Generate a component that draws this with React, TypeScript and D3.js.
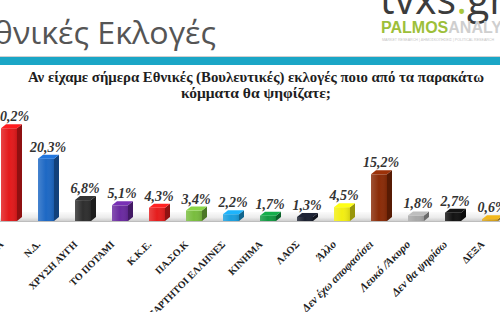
import React from "react";
import * as d3 from "d3";

const categories = [
  "ΣΥΡΙΖΑ",
  "Ν.Δ.",
  "ΧΡΥΣΗ ΑΥΓΗ",
  "ΤΟ ΠΟΤΑΜΙ",
  "Κ.Κ.Ε.",
  "ΠΑ.ΣΟ.Κ",
  "ΑΝΕΞΑΡΤΗΤΟΙ ΕΛΛΗΝΕΣ",
  "ΚΙΝΗΜΑ",
  "ΛΑΟΣ",
  "Άλλο",
  "Δεν έχω αποφασίσει",
  "Λευκό /Άκυρο",
  "Δεν θα ψηφίσω",
  "ΔΕΞΑ",
];
const values = [30.2, 20.3, 6.8, 5.1, 4.3, 3.4, 2.2, 1.7, 1.3, 4.5, 15.2, 1.8, 2.7, 0.6];
const barColors = [
  "#e3191b", "#1d68c4", "#2e2e2e", "#6a2aa0", "#e51d1d", "#79bd3e", "#1a9fdf",
  "#129a42", "#1b2030", "#f2ee12", "#8a2b07", "#a8a8a8", "#121212", "#d6a21a",
];
const title = "Εθνικές Εκλογές";
const questionLines = [
  "Αν είχαμε σήμερα Εθνικές (Βουλευτικές) εκλογές ποιο από τα παρακάτω",
  "κόμματα θα ψηφίζατε;",
];
const questionWidths = [456, 150];

const W = 500;
const H = 312;

export default function App() {
  const x = d3.scalePoint<string>().domain(categories).range([11, 492]);
  const y = d3.scaleLinear().domain([0, 31]).range([221, 125.8]);
  const fmt = (v: number) => d3.format(".1f")(v).replace(".", ",") + "%";
  const base = y(0);
  const dx = 5;
  const dy = -4;

  return (
    <svg
      width={W}
      height={H}
      viewBox={`0 0 ${W} ${H}`}
      style={{ position: "absolute", left: 0, top: 0, background: "#fff" }}
    >
      <defs>
        <linearGradient id="floor" x1="0" y1="0" x2="0" y2="1">
          <stop offset="0" stopColor="#fbfbfb" />
          <stop offset="0.6" stopColor="#ececec" />
          <stop offset="1" stopColor="#cfcfcf" />
        </linearGradient>
        <linearGradient id="sheen" x1="0" y1="0" x2="1" y2="0">
          <stop offset="0" stopColor="#fff" stopOpacity="0.18" />
          <stop offset="0.5" stopColor="#fff" stopOpacity="0" />
          <stop offset="1" stopColor="#000" stopOpacity="0.12" />
        </linearGradient>
      </defs>
      <rect width={W} height={H} fill="#fff" />

      {/* header */}
      <text
        x={-24}
        y={44}
        fontFamily="'Open Sans', sans-serif"
        fontSize={31}
        fill="#555"
        textLength={240}
        lengthAdjust="spacingAndGlyphs"
      >
        {title}
      </text>
      <text
        x={380}
        y={14}
        fontFamily="'Open Sans', sans-serif"
        fontSize={42}
        fill="#3c3c3c"
        textLength={126}
        lengthAdjust="spacingAndGlyphs"
      >
        tvxs<tspan fill="#a9c73c">.</tspan>gr
      </text>
      <text
        x={381}
        y={33}
        fontFamily="'Liberation Sans Narrow', 'Liberation Sans', sans-serif"
        fontWeight="bold"
        fontSize={16}
      >
        <tspan fill="#9dbf3a">PALMOS</tspan>
        <tspan fill="#cfcfcf">ANALYSIS</tspan>
      </text>
      <text x={382} y={41} fontFamily="'Liberation Sans', sans-serif" fontSize={3.6} fill="#c4c4c4">
        MARKET RESEARCH | ΔΗΜΟΣΚΟΠΗΣΕΙΣ | POLITICAL RESEARCH
      </text>
      <line x1={0} x2={W} y1={56.5} y2={56.5} stroke="#d0d0d0" strokeWidth={1} />
      <rect x={0} y={57} width={W} height={8} fill="#1ba6c6" />

      {questionLines.map((t, i) => (
        <text
          key={i}
          x={256 - questionWidths[i] / 2}
          y={82 + i * 16}
          fontFamily="'Liberation Serif', 'DejaVu Serif', serif"
          fontWeight="bold"
          fontSize={14}
          fill="#1e1e1e"
          textLength={questionWidths[i]}
          lengthAdjust="spacingAndGlyphs"
        >
          {t}
        </text>
      ))}

      {/* floor */}
      <rect x={0} y={base - 9} width={W} height={9} fill="url(#floor)" />
      <line x1={0} x2={W} y1={base + 0.5} y2={base + 0.5} stroke="#bdbdbd" />

      {/* bars */}
      {categories.map((c, i) => {
        const cx = x(c) as number;
        const top = y(values[i]);
        const x0 = cx - 10;
        const x1 = cx + 6;
        const col = d3.color(barColors[i])!;
        const side = col.darker(1.3).formatHex();
        const cap = col.brighter(0.35).formatHex();
        const mixed = c !== c.toUpperCase();
        return (
          <g key={c}>
            <polygon
              points={`${x1},${top} ${x1 + dx},${top + dy} ${x1 + dx},${base + dy} ${x1},${base}`}
              fill={side}
            />
            <rect x={x0} y={top} width={x1 - x0} height={base - top} fill={barColors[i]} />
            <rect x={x0} y={top} width={x1 - x0} height={base - top} fill="url(#sheen)" />
            <polygon
              points={`${x0},${top} ${x1},${top} ${x1 + dx},${top + dy} ${x0 + dx},${top + dy}`}
              fill={cap}
            />
            <text
              x={cx}
              y={top - 7}
              textAnchor="middle"
              fontFamily="'Liberation Serif', 'DejaVu Serif', serif"
              fontWeight="bold"
              fontStyle="italic"
              fontSize={14}
              fill="#333"
            >
              {fmt(values[i])}
            </text>
            <text
              transform={`translate(${cx - 7},${base + 24}) rotate(-45)`}
              textAnchor="end"
              fontFamily="'Liberation Serif', 'DejaVu Serif', serif"
              fontWeight="bold"
              fontStyle={mixed ? "italic" : "normal"}
              fontSize={mixed ? 11.5 : 10}
              fill="#222"
            >
              {c}
            </text>
          </g>
        );
      })}
    </svg>
  );
}
